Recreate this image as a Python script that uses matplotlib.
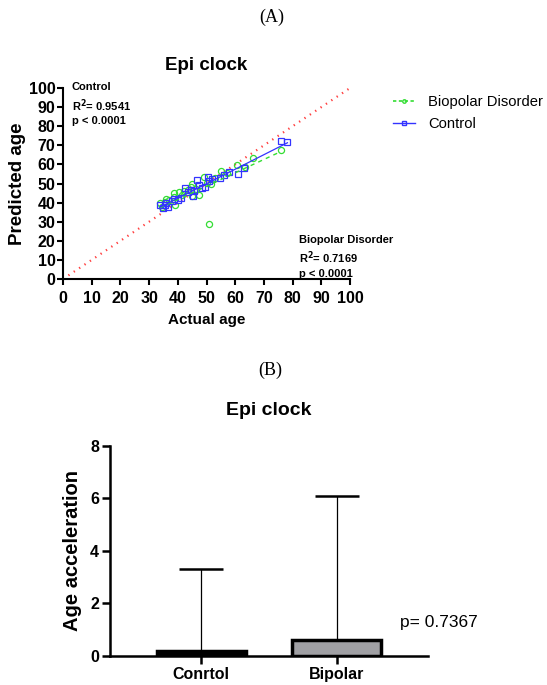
import numpy as np
import matplotlib
matplotlib.use("Agg")
import matplotlib.pyplot as plt
from matplotlib.lines import Line2D

plt.rcParams["font.family"] = ["Liberation Sans", "DejaVu Sans"]

# ---- panel A data ----
ctrl_x = [75.8, 78.2, 61.1, 63.2, 57.7, 56.1, 54.7, 50.6, 51.0, 46.8, 48.3, 47.5, 45.8, 45.2,
          42.6, 43.5, 41.0, 37.9, 36.0, 35.5, 33.8, 34.8, 36.5, 40.0, 49.5, 52.0, 44.5, 38.5]
ctrl_y = [72.3, 71.9, 55.0, 58.0, 56.2, 54.5, 52.9, 53.4, 51.5, 51.8, 47.5, 49.0, 46.0, 43.2,
          47.5, 45.5, 42.5, 40.8, 40.0, 38.5, 39.0, 37.0, 37.5, 41.5, 48.0, 52.5, 46.5, 42.0]
bd_x = [51.0, 75.8, 66.1, 60.6, 63.5, 55.0, 49.0, 51.5, 50.0, 45.0, 44.5, 43.5, 42.0, 40.5,
        38.5, 38.5, 39.0, 47.5, 45.0, 33.8, 34.5, 35.5, 37.0, 36.0, 41.5, 46.5, 53.0, 57.0]
bd_y = [28.8, 67.5, 63.2, 59.8, 58.5, 56.8, 53.2, 49.5, 50.5, 50.0, 48.0, 46.5, 46.0, 45.8,
        45.0, 43.0, 38.5, 44.2, 43.5, 39.8, 37.5, 40.5, 41.5, 42.0, 44.0, 47.0, 53.0, 55.5]
ctrl_fit = (0.76, 11.9)   # slope, intercept
bd_fit = (0.70, 13.6)

# ---- panel B data ----
groups = ["Conrtol", "Bipolar"]
mean_acc = [0.2, 0.6]
err_up = [3.1, 5.5]
bar_colors = ["black", "#a0a0a4"]

fig = plt.figure(figsize=(5.47, 6.85), dpi=100)

# ================= panel A =================
ax = fig.add_axes([0.1152, 0.5927, 0.5247, 0.2788])
ax.plot([0, 100], [0, 100], color="#ff4040", lw=1.6, ls=(0, (0.6, 2.3)))
ax.plot(bd_x, bd_y, ls="none", marker="o", ms=4.4, mfc="none", mec="#33dd33", mew=0.9)
ax.plot(ctrl_x, ctrl_y, ls="none", marker="s", ms=4.5, mfc="none", mec="#3333ff", mew=0.9)
xs = np.array([min(bd_x[1:]), max(bd_x)])
ax.plot(xs, bd_fit[0] * xs + bd_fit[1], color="#33dd33", lw=1.0, ls=(0, (3, 3)))
xs = np.array([min(ctrl_x), max(ctrl_x)])
ax.plot(xs, ctrl_fit[0] * xs + ctrl_fit[1], color="#3333ff", lw=0.9)

ax.set_xlim(0, 100)
ax.set_ylim(0, 100)
ax.set_xticks(range(0, 101, 10))
ax.set_yticks(range(0, 101, 10))
for s in ["top", "right"]:
    ax.spines[s].set_visible(False)
for s in ["left", "bottom"]:
    ax.spines[s].set_linewidth(1.5)
ax.tick_params(width=1.5, length=4.5, labelsize=11.5, pad=1)
ax.tick_params(axis="x", pad=4)
for lab in ax.get_xticklabels() + ax.get_yticklabels():
    lab.set_fontweight("bold")
ax.set_xlabel("Actual age", fontsize=11, fontweight="bold", labelpad=5)
ax.set_ylabel("Predicted age", fontsize=13.5, fontweight="bold", labelpad=2)
ax.set_title("Epi clock", fontsize=13.5, fontweight="bold", pad=13)

ax.text(0.03, 1.03, "Control\nR$^\\mathbf{2}$= 0.9541\np < 0.0001", transform=ax.transAxes,
        fontsize=8, fontweight="bold", va="top", ha="left", linespacing=1.35)
ax.text(0.822, 0.23, "Biopolar Disorder\nR$^\\mathbf{2}$= 0.7169\np < 0.0001", transform=ax.transAxes,
        fontsize=8, fontweight="bold", va="top", ha="left", linespacing=1.35)

handles = [Line2D([], [], color="#33dd33", ls=(0, (2, 1.5)), lw=1.2, marker="o", ms=2.5, mfc="none"),
           Line2D([], [], color="#3333ff", lw=1.0, marker="s", ms=2.8, mfc="none")]
fig.legend(handles, ["Biopolar Disorder", "Control"], loc="upper left",
           bbox_to_anchor=(0.695, 0.881), frameon=False, fontsize=10.6,
           handlelength=1.45, handletextpad=0.9, labelspacing=0.55)

fig.text(0.497, 0.974, "(A)", fontsize=13, family="Liberation Serif", ha="center", va="center")
fig.text(0.494, 0.460, "(B)", fontsize=13, family="Liberation Serif", ha="center", va="center")

# ================= panel B =================
bx = fig.add_axes([0.2011, 0.0423, 0.5814, 0.307])
pos = np.arange(len(groups))
bx.bar(pos, mean_acc, width=0.655, color=bar_colors, edgecolor="black", linewidth=2.5, zorder=2)
bx.errorbar(pos, mean_acc, yerr=[[0, 0], err_up], fmt="none", ecolor="black",
            elinewidth=0.9, capsize=16, capthick=1.8, zorder=1)
bx.set_xlim(-0.67, 1.67)
bx.set_ylim(0, 8)
bx.set_yticks([0, 2, 4, 6, 8])
bx.set_xticks(pos)
bx.set_xticklabels(groups, fontsize=10.5, fontweight="bold")
for lab in bx.get_yticklabels():
    lab.set_fontweight("bold")
for s in ["top", "right"]:
    bx.spines[s].set_visible(False)
for s in ["left", "bottom"]:
    bx.spines[s].set_linewidth(1.8)
bx.tick_params(width=1.8, length=6, labelsize=11.5, pad=2)
bx.set_ylabel("Age acceleration", fontsize=14.5, fontweight="bold", labelpad=6)
bx.set_title("Epi clock", fontsize=14, fontweight="bold", pad=22)
bx.text(1.75, 1.29, "p= 0.7367", fontsize=12.5, ha="center", va="center")

fig.savefig("out.png", dpi=100)
